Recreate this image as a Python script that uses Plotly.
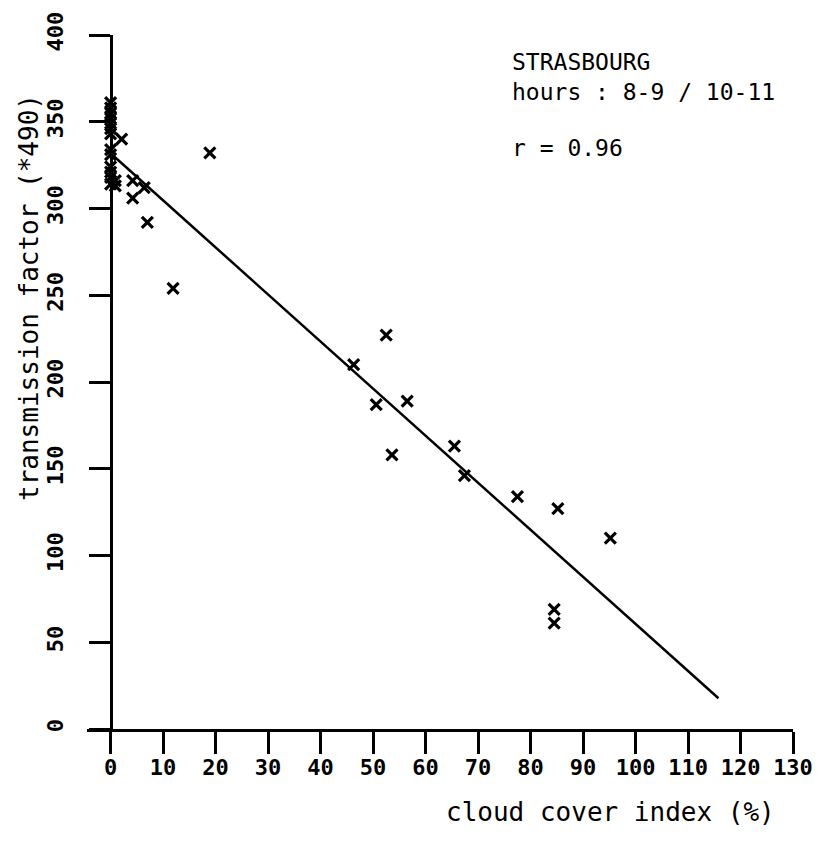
import plotly.graph_objects as go

# Observations: cloud cover index (%) vs transmission factor (*490)
cloud_cover = [0, 0, 0, 0, 0, 0, 0, 0, 0, 0, 0, 0, 0, 0.9, 0.9, 2.1,
               4.2, 6.4, 4.2, 7.0, 18.9, 11.9,
               46.3, 50.6, 52.5, 53.6, 56.5, 65.5, 67.4, 77.5, 85.2, 95.2, 84.5, 84.5]
transmission = [361, 358, 355, 352, 349, 346, 343, 334, 331, 324, 321, 318, 314, 316, 313, 340,
                316, 312, 306, 292, 332, 254,
                210, 187, 227, 158, 189, 163, 146, 134, 127, 110, 69, 61]

# Regression line end points
fit_x = [0.3, 115.8]
fit_y = [331, 17.7]

x_ticks = list(range(0, 131, 10))
y_ticks = list(range(0, 401, 50))

station_lines = ["STRASBOURG", "hours : 8-9 / 10-11"]
corr = "r = 0.96"
x_title = "cloud cover index (%)"
y_title = "transmission factor (*490)"

MONO = "DejaVu Sans Mono"
OFF = 8  # page body margin offset
W, H = 831 - OFF, 845 - OFF
L, T = 87 - OFF, 35 - OFF
PW, PH = 706, 694
R, B = W - L - PW, H - T - PH


def px(x):
    return (x - OFF - L) / PW


def py(y):
    return (T + PH - (y - OFF)) / PH


fig = go.Figure()
fig.add_trace(go.Scatter(
    x=fit_x, y=fit_y, mode="lines",
    line=dict(color="black", width=2.5), showlegend=False, hoverinfo="skip"))
fig.add_trace(go.Scatter(
    x=cloud_cover, y=transmission, mode="markers",
    marker=dict(symbol="x-thin", size=11, line=dict(color="black", width=3.2), color="black"),
    showlegend=False))

fig.update_layout(
    width=W, height=H,
    margin=dict(l=L, r=R, t=T, b=B),
    paper_bgcolor="white", plot_bgcolor="white",
    xaxis=dict(
        range=[-4.5, 130], showgrid=False, zeroline=False, automargin=False,
        showline=True, linecolor="black", linewidth=2.5,
        ticks="outside", ticklen=22, tickwidth=2.5, tickcolor="black",
        tickvals=x_ticks, ticktext=[str(v) for v in x_ticks],
        tickfont=dict(family=MONO, size=22, color="black", weight="bold"),
        ticklabelstandoff=-5,
    ),
    yaxis=dict(
        range=[0, 400], showgrid=False, zeroline=False, automargin=False,
        anchor="free", position=4.5 / 134.5,
        showline=True, linecolor="black", linewidth=2.5,
        ticks="outside", ticklen=21, tickwidth=2.5, tickcolor="black",
        tickvals=y_ticks, ticktext=[str(v) for v in y_ticks], tickangle=-90,
        tickfont=dict(family=MONO, size=22, color="black", weight="bold"),
        ticklabelstandoff=17,
    ),
)

ann_font = dict(family=MONO, size=23, color="black")
fig.add_annotation(text="<br>".join(station_lines), xref="paper", yref="paper",
                   x=px(510), y=py(77), xanchor="left", yanchor="middle", align="left",
                   showarrow=False, font=ann_font)
fig.add_annotation(text=corr, xref="paper", yref="paper", x=px(510), y=py(148),
                   xanchor="left", yanchor="middle", showarrow=False, font=ann_font)
fig.add_annotation(text=x_title, xref="paper", yref="paper", x=px(610), y=py(812),
                   xanchor="center", yanchor="middle", showarrow=False,
                   font=dict(family=MONO, size=26, color="black"))
fig.add_annotation(text=y_title, xref="paper", yref="paper", x=px(29), y=py(298),
                   xanchor="center", yanchor="middle", showarrow=False,
                   font=dict(family=MONO, size=26, color="black"), textangle=-90)

fig.write_html("out.html")
